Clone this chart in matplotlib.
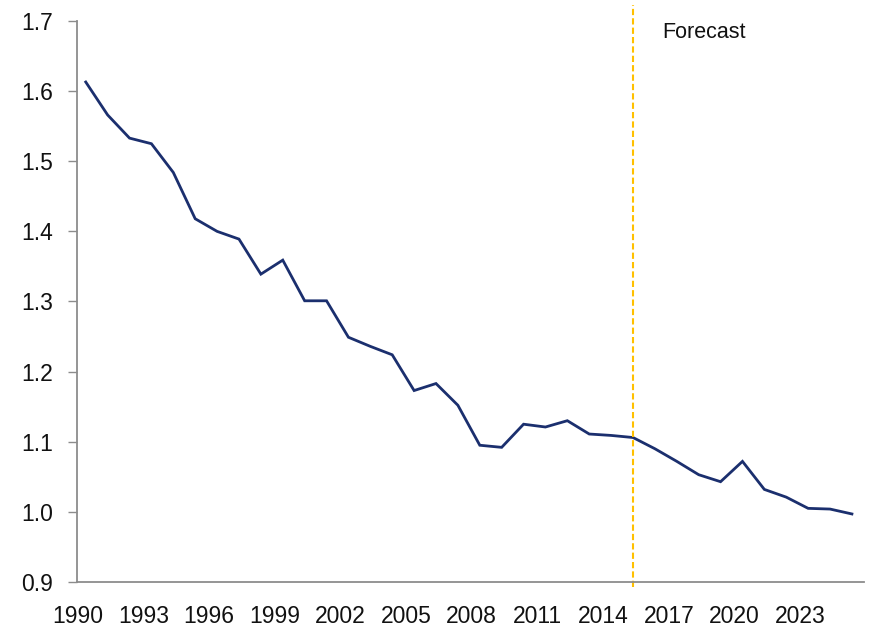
import matplotlib
matplotlib.use("Agg")
import matplotlib.pyplot as plt
import matplotlib.transforms as mtransforms

# Data
years = list(range(1990, 2026))
values = [1.613, 1.566, 1.533, 1.525, 1.484, 1.418, 1.400, 1.389, 1.339, 1.359,
          1.301, 1.301, 1.249, 1.236, 1.224, 1.173, 1.183, 1.152, 1.095, 1.092,
          1.125, 1.121, 1.130, 1.111, 1.109, 1.106, 1.090, 1.072, 1.053, 1.043,
          1.072, 1.032, 1.021, 1.005, 1.004, 0.997]
tick_years = list(range(1990, 2024, 3))
y_ticks = [0.9, 1.0, 1.1, 1.2, 1.3, 1.4, 1.5, 1.6, 1.7]
forecast_start = 2015
forecast_label = "Forecast"

FONT = ["Liberation Sans", "DejaVu Sans"]
LINE_COLOR = "#1b2f6e"
FORECAST_COLOR = "#ffc000"
AXIS_COLOR = "#8c8c8c"

plt.rcParams["font.family"] = FONT

fig = plt.figure(figsize=(8.69, 6.27), dpi=100)
ax = fig.add_axes([0.0886, 0.0718, 0.9942 - 0.0886, 0.9665 - 0.0718])

ax.plot(years, values, color=LINE_COLOR, linewidth=2.0, solid_joinstyle="miter")

ymin, ymax = y_ticks[0], y_ticks[-1]
span = ymax - ymin
ax.plot([forecast_start, forecast_start], [ymin - 0.009 * span, ymax + 0.028 * span],
        color=FORECAST_COLOR, linewidth=1.5, dashes=(3.0, 1.5), clip_on=False)
ax.text(2016.35, 1.6763, forecast_label, fontsize=15.5, color="#111111",
        ha="left", va="baseline")

ax.set_xlim(1989.6, 2025.55)
ax.set_ylim(ymin, ymax)

ax.set_yticks(y_ticks)
ax.set_yticklabels([f"{v:.1f}" for v in y_ticks])
ax.set_xticks(tick_years)
ax.set_xticklabels([str(y) for y in tick_years])

ax.tick_params(axis="y", length=6.5, width=1, color=AXIS_COLOR, pad=11,
               labelsize=16.5, labelcolor="#111111")
ax.tick_params(axis="x", length=0, pad=16.5, labelsize=16.5, labelcolor="#111111")

# x labels in the original sit a little left of their points
offset = mtransforms.ScaledTranslation(-8 / 100, 0, fig.dpi_scale_trans)
for lbl in ax.get_xticklabels():
    lbl.set_transform(lbl.get_transform() + offset)

for side in ["top", "right"]:
    ax.spines[side].set_visible(False)
for side in ["left", "bottom"]:
    ax.spines[side].set_color(AXIS_COLOR)
    ax.spines[side].set_linewidth(1.3)

fig.savefig("out.png", dpi=100)
